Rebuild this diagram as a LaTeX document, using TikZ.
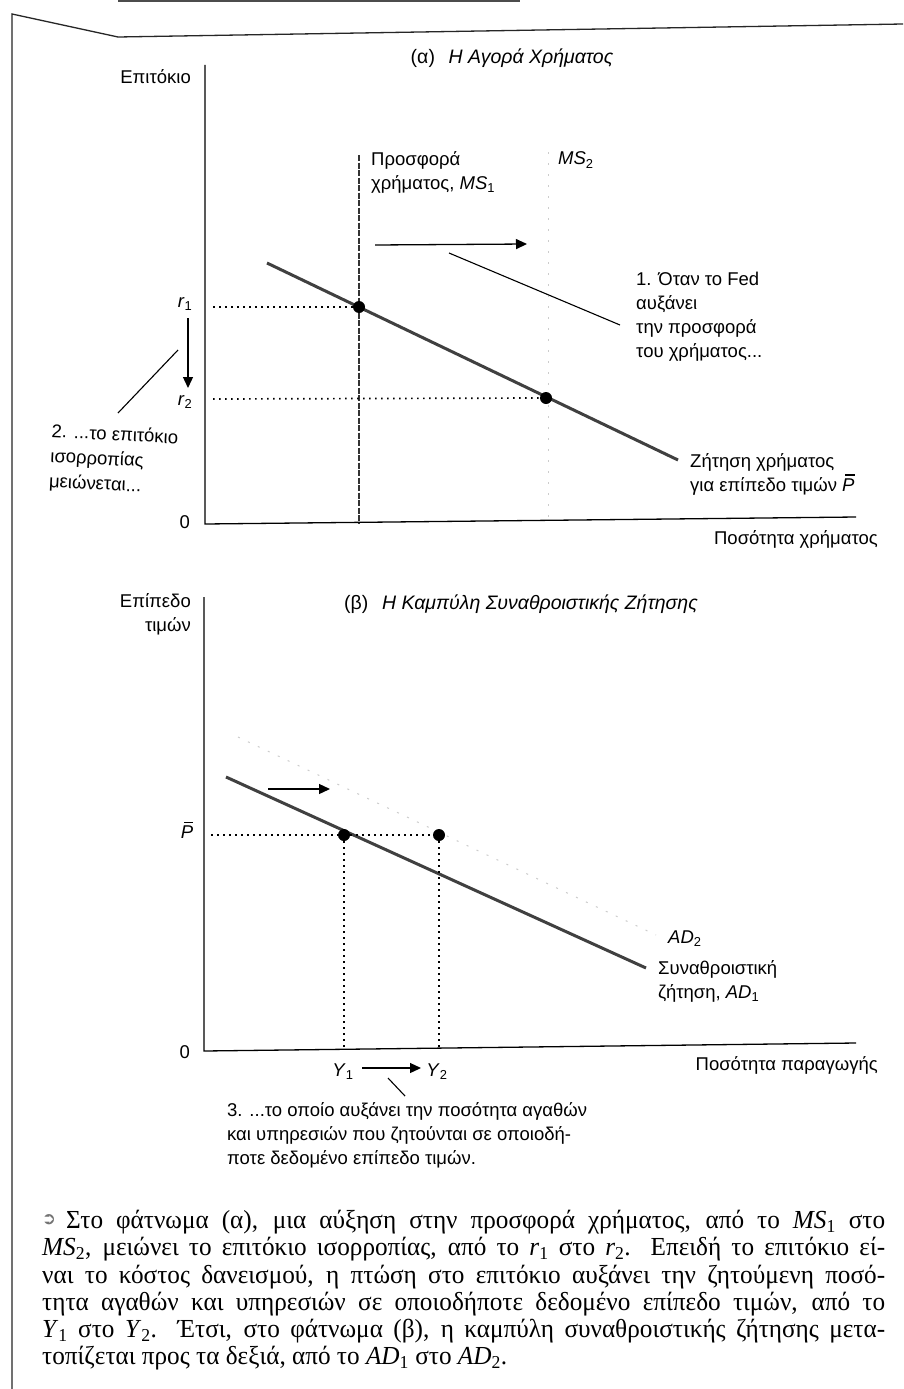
\documentclass[tikz,border=0pt]{standalone}
\usepackage{fontspec}
\usetikzlibrary{arrows.meta}
\newfontfamily\lab{Liberation Sans}
\newfontfamily\capf[FakeStretch=0.97]{Liberation Serif}
\newfontfamily\symf{DejaVu Sans}
\newcommand{\Pbar}{\textit{\ooalign{P\cr\hidewidth\kern0.18em\raisebox{0.84em}{\rule{0.5em}{0.07em}}\hidewidth\cr}}}
\tikzset{
  ax/.style={line width=1.3pt, black},
  border/.style={line width=1.3pt, black!85},
  guideline/.style={line width=1.7pt, dash pattern=on 1.7pt off 4.3pt},
  demandline/.style={line width=3pt, black!75},
  supplyline/.style={line width=2.6pt, dash pattern=on 6pt off 1.5pt, black!80},
  faintline/.style={line width=1pt, black!20, dash pattern=on 2pt off 9pt},
  callout/.style={line width=1.1pt},
  shiftarrow/.style={line width=1.3pt, -{Triangle[length=11pt,width=10pt]}},
  dotmark/.style={circle, fill=black, inner sep=0pt, minimum size=12pt},
  lbl/.style={font=\lab\fontsize{18.5}{24}\selectfont, inner sep=0pt},
  ttl/.style={font=\lab\fontsize{19.5}{24}\selectfont, inner sep=0pt},
  captext/.style={font=\capf\fontsize{26}{27}\selectfont, inner sep=0pt, anchor=west},
}
\begin{document}
\begin{tikzpicture}[x=1pt, y=-1pt]
\fill[white] (0,0) rectangle (903,1389);
\useasboundingbox (0,0) rectangle (903,1389);

% page border
\coordinate (bl) at (12,1389);
\coordinate (tl) at (12,14);
\coordinate (kink) at (118,37);
\coordinate (tr) at (903,24);
\draw[border] (bl) -- (tl) -- (kink) -- (tr);
\coordinate (topA) at (118,1.5);
\coordinate (topB) at (520,1.5);
\draw[line width=2pt, black!70] (topA) -- (topB);

% ================= panel (a)
\coordinate (aTop) at (205,65);
\coordinate (aO) at (205,524);
\coordinate (aR) at (856,517);
\draw[ax] (aTop) -- (aO) -- (aR);
\node[lbl, anchor=east] (aYlab) at (191,77) {Επιτόκιο};
\node[ttl] (atitle) at (512,58) {(α)\hspace{0.7em}\itshape Η Αγορά Χρήματος};
\node[lbl, anchor=east] (a0) at (190,522) {0};
\node[lbl, anchor=east] (aXlab) at (878,539) {Ποσότητα χρήματος};

\coordinate (ms2t) at (548,152);
\coordinate (ms2b) at (548,521);
\draw[faintline] (ms2t) -- (ms2b);
\coordinate (ms1t) at (359,155);
\coordinate (ms1b) at (359,523);
\draw[supplyline] (ms1t) -- (ms1b);
\node[lbl, anchor=north west, align=left] (ms1lab) at (371,151) {Προσφορά\\χρήματος, \textit{MS}\textsubscript{1}};
\node[lbl, anchor=west] (ms2lab) at (558,160) {\textit{MS}\textsubscript{2}};

\coordinate (arA) at (375,245);
\coordinate (arB) at (527,244);
\draw[shiftarrow] (arA) -- (arB);
\coordinate (c1a) at (449,253);
\coordinate (c1b) at (620,325);
\draw[callout] (c1a) -- (c1b);
\node[lbl, anchor=north west, align=left] (note1) at (636,272) {1. Όταν το Fed\\αυξάνει\\την προσφορά\\του χρήματος...};

\coordinate (md1) at (267,263);
\coordinate (md2) at (678,460);
\draw[demandline] (md1) -- (md2);
\node[dotmark] (e1) at (359,307) {};
\node[dotmark] (e2) at (546,398) {};
\coordinate (g1) at (213,307);
\coordinate (g2) at (213,399);
\draw[guideline] (g1) -- (e1.west);
\draw[guideline] (g2) -- (e2.west);
\node[lbl] (r1) at (185,304) {\textit{r}\textsubscript{1}};
\node[lbl] (r2) at (185,402) {\textit{r}\textsubscript{2}};
\coordinate (dnA) at (188,318);
\coordinate (dnB) at (188,388);
\draw[shiftarrow] (dnA) -- (dnB);
\coordinate (c2a) at (178,350);
\coordinate (c2b) at (118,413);
\draw[callout] (c2a) -- (c2b);
\node[font=\lab\fontsize{18.5}{25}\selectfont, inner sep=0pt, anchor=north west, align=left, rotate=-3] (note2) at (52,423) {2. ...το επιτόκιο\\ισορροπίας\\μειώνεται...};
\node[lbl, anchor=north west, align=left] (mdlab) at (690,453) {Ζήτηση χρήματος\\για επίπεδο τιμών \Pbar};

% ================= panel (b)
\coordinate (bTop) at (204,597);
\coordinate (bO) at (204,1051);
\coordinate (bR) at (856,1043);
\draw[ax] (bTop) -- (bO) -- (bR);
\node[lbl, anchor=north east, align=right] (bYlab) at (191,593) {Επίπεδο\\τιμών};
\node[ttl] (btitle) at (521,604) {(β)\hspace{0.7em}\itshape Η Καμπύλη Συναθροιστικής Ζήτησης};
\node[lbl, anchor=east] (b0) at (190,1052) {0};
\node[lbl, anchor=east] (bXlab) at (878,1065) {Ποσότητα παραγωγής};

\coordinate (ad2a) at (238,737);
\coordinate (ad2b) at (656,935);
\draw[faintline] (ad2a) -- (ad2b);
\coordinate (ad1a) at (226,777);
\coordinate (ad1b) at (646,968);
\draw[demandline] (ad1a) -- (ad1b);
\coordinate (brA) at (268,789);
\coordinate (brB) at (330,789);
\draw[shiftarrow] (brA) -- (brB);
\node[dotmark] (d1) at (344,835) {};
\node[dotmark] (d2) at (439,835) {};
\coordinate (g3) at (211,835);
\coordinate (v1) at (344,1049);
\coordinate (v2) at (439,1048);
\draw[guideline] (g3) -- (d1.west);
\draw[guideline] (d1.east) -- (d2.west);
\draw[guideline] (d1.south) -- (v1);
\draw[guideline] (d2.south) -- (v2);
\node[lbl] (pbarlab) at (187,832) {\Pbar};
\node[lbl, anchor=west] (ad2lab) at (668,939) {\textit{AD}\textsubscript{2}};
\node[lbl, anchor=north west, align=left] (ad1lab) at (658,960) {Συναθροιστική\\ζήτηση, \textit{AD}\textsubscript{1}};

\node[lbl] (y1) at (343,1072) {\textit{Y}\textsubscript{1}};
\node[lbl] (y2) at (437,1072) {\textit{Y}\textsubscript{2}};
\coordinate (yA) at (362,1068);
\coordinate (yB) at (421,1068);
\draw[shiftarrow] (yA) -- (yB);
\coordinate (c3a) at (388,1078);
\coordinate (c3b) at (405,1096);
\draw[callout] (c3a) -- (c3b);
\node[lbl, anchor=north west, align=left] (note3) at (227,1102) {3. ...το οποίο αυξάνει την ποσότητα αγαθών\\και υπηρεσιών που ζητούνται σε οποιοδή-\\ποτε δεδομένο επίπεδο τιμών.};

% ================= caption
\node[font=\symf\fontsize{17}{17}\selectfont, text=black!55, inner sep=0pt] (capsym) at (49,1220) {➲};
\node[captext] (cap1) at (66,1222) {\makebox[819pt][s]{Στο φάτνωμα (α), μια αύξηση στην προσφορά χρήματος, από το \textit{MS}\textsubscript{1} στο}};
\node[captext] (cap2) at (42,1249) {\makebox[843pt][s]{\textit{MS}\textsubscript{2}, μειώνει το επιτόκιο ισορροπίας, από το \textit{r}\textsubscript{1} στο \textit{r}\textsubscript{2}. Επειδή το επιτόκιο εί-}};
\node[captext] (cap3) at (42,1277) {\makebox[843pt][s]{ναι το κόστος δανεισμού, η πτώση στο επιτόκιο αυξάνει την ζητούμενη ποσό-}};
\node[captext] (cap4) at (42,1304) {\makebox[843pt][s]{τητα αγαθών και υπηρεσιών σε οποιοδήποτε δεδομένο επίπεδο τιμών, από το}};
\node[captext] (cap5) at (42,1331) {\makebox[843pt][s]{\textit{Y}\textsubscript{1} στο \textit{Y}\textsubscript{2}. Έτσι, στο φάτνωμα (β), η καμπύλη συναθροιστικής ζήτησης μετα-}};
\node[captext] (cap6) at (42,1358) {τοπίζεται προς τα δεξιά, από το \textit{AD}\textsubscript{1} στο \textit{AD}\textsubscript{2}.};
\end{tikzpicture}
\end{document}
